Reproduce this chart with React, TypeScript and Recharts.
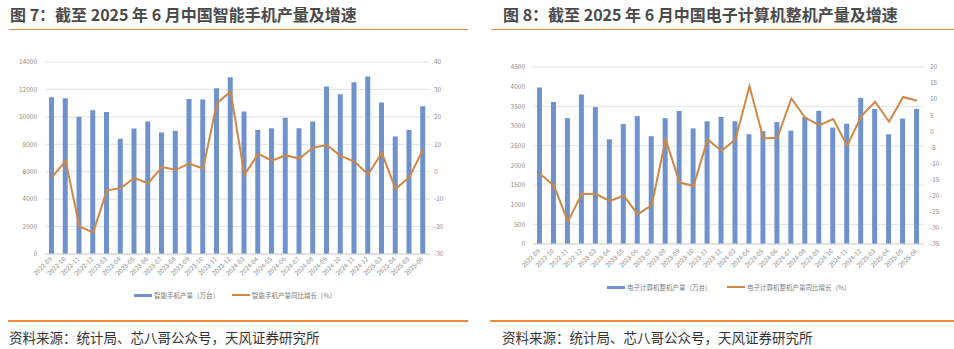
import React from "react";
import {
  ComposedChart,
  Bar,
  Line,
  XAxis,
  YAxis,
  CartesianGrid,
} from "recharts";

const months = [
  "2022-09", "2022-10", "2022-11", "2022-12",
  "2023-03", "2023-04", "2023-05", "2023-06", "2023-07", "2023-08", "2023-09", "2023-10", "2023-11", "2023-12",
  "2024-03", "2024-04", "2024-05", "2024-06", "2024-07", "2024-08", "2024-09", "2024-10", "2024-11", "2024-12",
  "2025-03", "2025-04", "2025-05", "2025-06",
];

// 智能手机产量（万台）
const phoneOutput = [
  11430, 11360, 10000, 10490,
  10360, 8400, 9150, 9660, 8860, 8980, 11310, 11260, 12090, 12890,
  10390, 9050, 9170, 9930, 9170, 9660, 12210, 11650, 12520, 12940,
  11040, 8570, 9050, 10780,
];

// 智能手机产量同比增长（%）
const phoneYoY = [
  -2.1, 4.0, -19.9, -22.2,
  -6.8, -6.0, -2.3, -4.2, 1.7, 0.7, 3.0, 1.1, 25.0, 29.2,
  -1.1, 6.5, 4.0, 6.0, 4.8, 8.8, 9.7, 5.8, 3.7, -0.9,
  6.8, -6.3, -2.0, 8.2,
];

// 电子计算机整机产量（万台）
const pcOutput = [
  3980, 3610, 3200, 3800,
  3480, 2660, 3050, 3250, 2740, 3200, 3380, 2940, 3120, 3230,
  3120, 2790, 2870, 3100, 2880, 3230, 3390, 2960, 3060, 3710,
  3430, 2790, 3190, 3430,
];

// 电子计算机整机产量同比增长（%）
const pcYoY = [
  -13.2, -16.9, -28.0, -19.4,
  -19.5, -21.6, -20.0, -25.8, -22.9, -2.5, -15.9, -16.9, -2.5, -6.0,
  -2.5, 14.0, -2.2, -2.0, 10.2, 4.2, 1.9, 3.8, -4.5, 4.7,
  9.2, 3.0, 10.7, 9.5,
];

const phoneLeftTicks = [0, 2000, 4000, 6000, 8000, 10000, 12000, 14000];
const phoneRightTicks = [-30, -20, -10, 0, 10, 20, 30, 40];
const pcLeftTicks = [0, 500, 1000, 1500, 2000, 2500, 3000, 3500, 4000, 4500];
const pcRightTicks = [-35, -30, -25, -20, -15, -10, -5, 0, 5, 10, 15, 20];

const BAR = "#6F92CC";
const LINE = "#CF8744";
const HEAD_LINE = "#D98C4C";
const FOOT_LINE = "#EE8B3A";
const FONT = "'Noto Sans CJK SC', 'Noto Sans', sans-serif";

const phoneData = months.map((m, i) => ({ month: m, output: phoneOutput[i], yoy: phoneYoY[i] }));
const pcData = months.map((m, i) => ({ month: m, output: pcOutput[i], yoy: pcYoY[i] }));

const axisTick = { fill: "#8C8C8C", fontSize: 6.5, fontFamily: FONT };

function MonthTick(props: any) {
  const { x, y, payload } = props;
  return (
    <g transform={`translate(${x - 1},${y})`}>
      <text
        transform="rotate(-45)"
        textAnchor="end"
        dy="0.35em"
        fill="#8C8C8C"
        fontSize={6.3}
        fontFamily={FONT}
      >
        {payload.value}
      </text>
    </g>
  );
}

function LegendItem({ color, thick, label, left, top }: { color: string; thick: number; label: string; left: number; top: number }) {
  return (
    <div style={{ position: "absolute", left, top, display: "flex", alignItems: "center", whiteSpace: "nowrap" }}>
      <div style={{ width: 18, height: thick, background: color, marginRight: 2 }} />
      <span style={{ fontSize: 6.5, color: "#7A7A7A", fontFamily: FONT }}>{label}</span>
    </div>
  );
}

function Panel({
  left,
  width,
  title,
  children,
  lineStart,
  lineEnd,
  titleLeft,
  footLeft,
}: {
  left: number;
  width: number;
  title: string;
  children: React.ReactNode;
  lineStart: number;
  lineEnd: number;
  titleLeft: number;
  footLeft: number;
}) {
  return (
    <div style={{ position: "absolute", left, top: 0, width, height: 349 }}>
      <div
        style={{
          position: "absolute",
          left: titleLeft,
          top: 3,
          fontSize: 16,
          fontWeight: 700,
          color: "#4A4A4A",
          fontFamily: FONT,
          whiteSpace: "nowrap",
          lineHeight: "22px",
        }}
      >
        {title}
      </div>
      <div style={{ position: "absolute", left: lineStart, top: 29, width: lineEnd - lineStart, height: 1, background: HEAD_LINE }} />
      {children}
      <div style={{ position: "absolute", left: lineStart - 1, top: 320, width: lineEnd - lineStart + 1, height: 1.5, background: FOOT_LINE }} />
      <div
        style={{
          position: "absolute",
          left: footLeft,
          top: 327,
          fontSize: 13.5,
          color: "#333",
          fontFamily: FONT,
          whiteSpace: "nowrap",
          lineHeight: "20px",
        }}
      >
        资料来源：统计局、芯八哥公众号，天风证券研究所
      </div>
    </div>
  );
}

export default function App() {
  return (
    <div style={{ position: "absolute", left: 0, top: 0, width: 954, height: 349, background: "#fff", overflow: "hidden" }}>
      <Panel left={0} width={477} title="图 7：截至 2025 年 6 月中国智能手机产量及增速" lineStart={9} lineEnd={468} titleLeft={10} footLeft={9}>
        <div style={{ position: "absolute", left: 0, top: 0 }}>
          <ComposedChart width={477} height={300} data={phoneData} margin={{ top: 62, right: 0, bottom: 0, left: 0 }}>
            <CartesianGrid yAxisId="left" vertical={false} stroke="#E2E2E2" />
            <XAxis
              dataKey="month"
              interval={0}
              height={46}
              tick={<MonthTick />}
              tickLine={false}
              tickSize={0}
              tickMargin={4}
              axisLine={{ stroke: "#D5D5D5" }}
            />
            <YAxis
              yAxisId="left"
              width={45}
              domain={[0, 14000]}
              ticks={phoneLeftTicks}
              tick={axisTick}
              axisLine={false}
              tickLine={false}
            />
            <YAxis
              yAxisId="right"
              orientation="right"
              width={47}
              domain={[-30, 40]}
              ticks={phoneRightTicks}
              tick={axisTick}
              axisLine={false}
              tickLine={false}
              tickSize={3}
              tickMargin={1}
            />
            <Bar yAxisId="left" dataKey="output" fill={BAR} barSize={5} isAnimationActive={false} />
            <Line yAxisId="right" dataKey="yoy" stroke={LINE} strokeWidth={2} dot={false} isAnimationActive={false} />
          </ComposedChart>
        </div>
        <LegendItem color={BAR} thick={3} label="智能手机产量（万台）" left={134} top={290} />
        <LegendItem color={LINE} thick={2} label="智能手机产量同比增长（%）" left={232} top={290} />
      </Panel>

      <Panel left={480} width={474} title="图 8：截至 2025 年 6 月中国电子计算机整机产量及增速" lineStart={11} lineEnd={474} titleLeft={23} footLeft={22}>
        <div style={{ position: "absolute", left: 0, top: 0 }}>
          <ComposedChart width={474} height={290} data={pcData} margin={{ top: 67, right: 0, bottom: 0, left: 0 }}>
            <CartesianGrid yAxisId="left" vertical={false} stroke="#E2E2E2" />
            <XAxis
              dataKey="month"
              interval={0}
              height={46}
              tick={<MonthTick />}
              tickLine={false}
              tickSize={0}
              tickMargin={6}
              axisLine={{ stroke: "#D5D5D5" }}
            />
            <YAxis
              yAxisId="left"
              width={53}
              domain={[0, 4500]}
              ticks={pcLeftTicks}
              tick={axisTick}
              axisLine={false}
              tickLine={false}
            />
            <YAxis
              yAxisId="right"
              orientation="right"
              width={30}
              domain={[-35, 20]}
              ticks={pcRightTicks}
              tick={axisTick}
              axisLine={false}
              tickLine={false}
              tickSize={3}
              tickMargin={3}
            />
            <Bar yAxisId="left" dataKey="output" fill={BAR} barSize={5} isAnimationActive={false} />
            <Line yAxisId="right" dataKey="yoy" stroke={LINE} strokeWidth={2} dot={false} isAnimationActive={false} />
          </ComposedChart>
        </div>
        <LegendItem color={BAR} thick={3} label="电子计算机整机产量（万台）" left={127} top={282} />
        <LegendItem color={LINE} thick={2} label="电子计算机整机产量同比增长（%）" left={247} top={282} />
      </Panel>
    </div>
  );
}
